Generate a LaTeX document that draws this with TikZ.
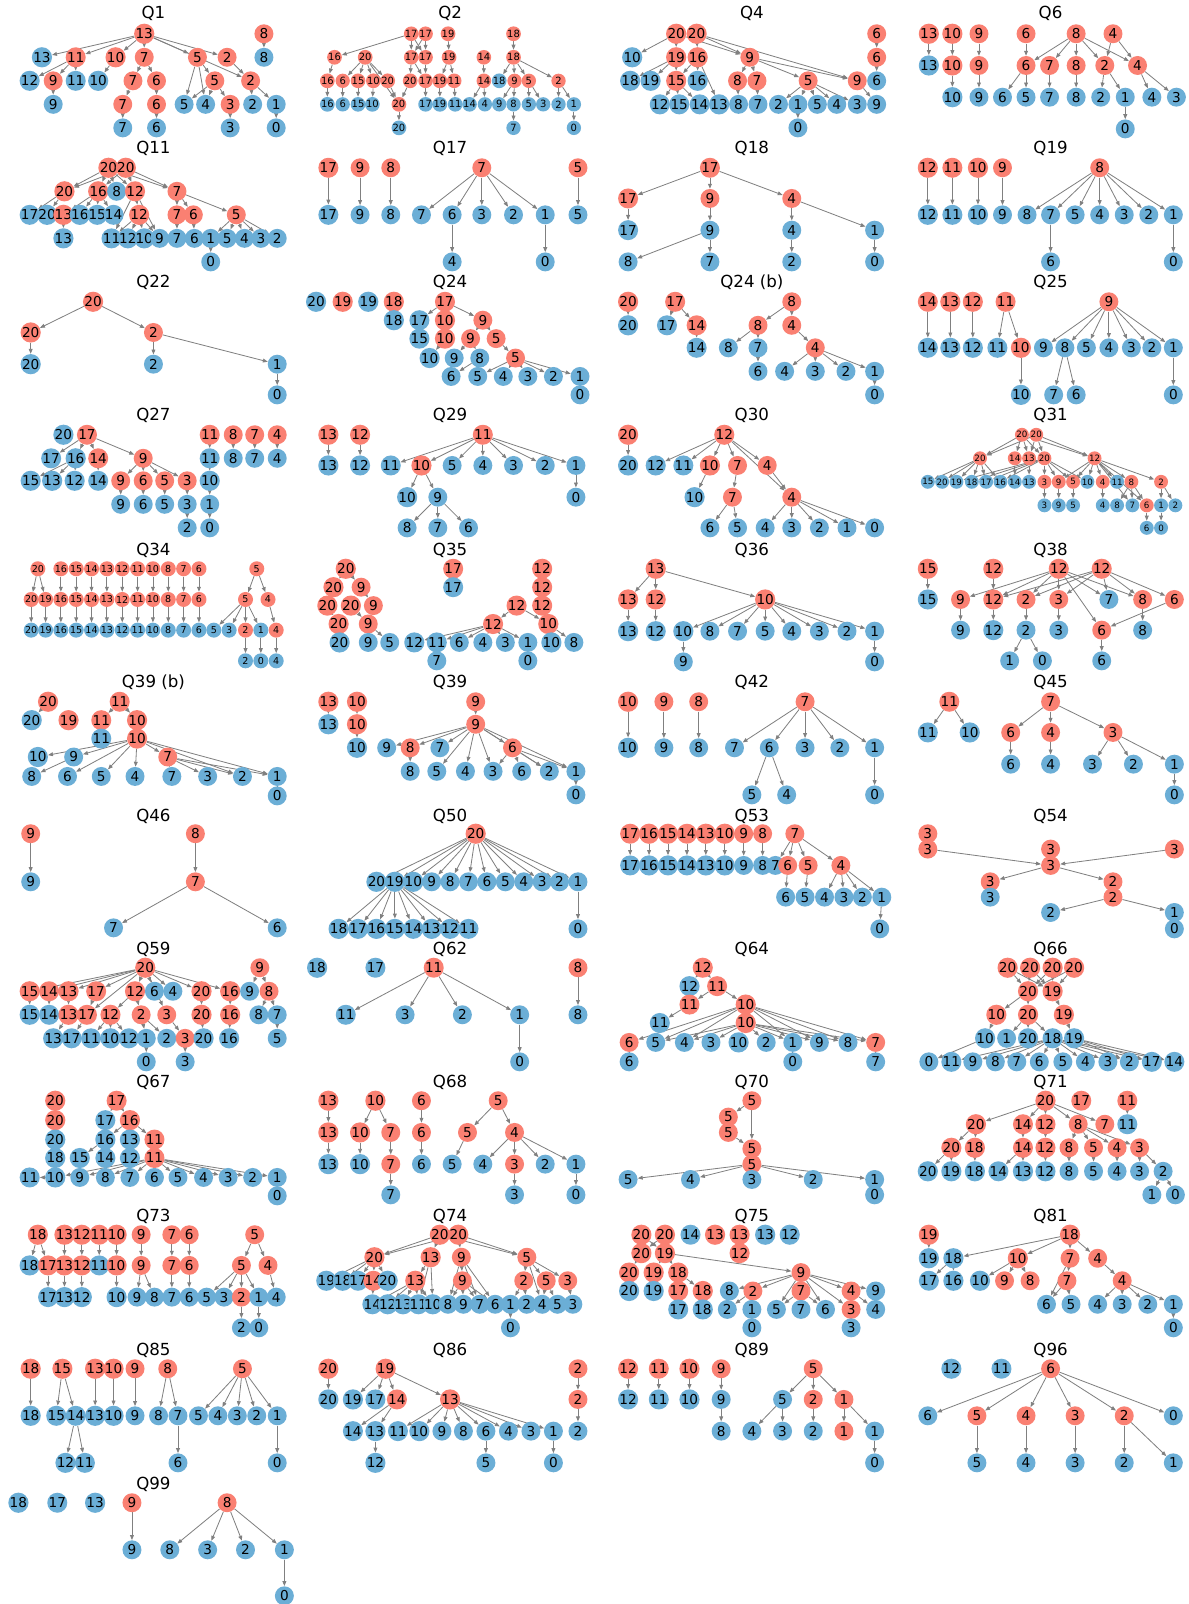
\documentclass[tikz,border=0pt]{standalone}
\usepackage{fontspec}
\setmainfont{DejaVu Sans}
\usetikzlibrary{arrows.meta,backgrounds}
\pgfdeclarelayer{bottom}
\pgfsetlayers{bottom,background,main}
\definecolor{cr}{HTML}{FA8072}
\definecolor{cb}{HTML}{6BAED6}
\definecolor{ce}{HTML}{808080}
\tikzset{
  nd/.style={circle,inner sep=0pt,minimum size=13.9pt,font=\fontsize{10}{10}\selectfont},
  nr/.style={nd,fill=cr},
  nb/.style={nd,fill=cb},
  ed/.style={draw=ce,line width=0.6pt,-{Triangle[length=3.6pt,width=2.8pt]}},
  ttl/.style={font=\fontsize{12.2}{14}\selectfont},
  smallnodes/.style 2 args={nd/.append style={minimum size=#1,font=\fontsize{#2}{#2}\selectfont}},
}
\newcommand\NR[4]{\node[nr] (#1) at (#2,#3) {#4};}
\newcommand\NB[4]{\node[nb] (#1) at (#2,#3) {#4};}
\newcommand\EDG[1]{\begin{pgfonlayer}{background}\foreach \sa/\ta in {#1}{\draw[ed] (\sa) -- (\ta);}\end{pgfonlayer}}
\begin{document}
\begin{tikzpicture}[x=0.75pt,y=-0.75pt]
\begin{pgfonlayer}{bottom}\fill[white] (0,0) rectangle (1162,1568);\end{pgfonlayer}
\useasboundingbox (0,0) rectangle (1162,1568);
% ---------------- Q1
\begin{scope}[name prefix=q1-]
\node[ttl] (title) at (150,13) {Q1};
\NR{r13}{141}{33}{13}\NR{r8}{258}{33}{8}
\NB{b13}{41}{56}{13}\NR{r11}{74}{56}{11}\NR{r10}{113}{56}{10}\NR{r7}{141}{56}{7}\NR{r5}{193}{56}{5}\NR{r2}{222}{56}{2}\NB{b8}{258}{56}{8}
\NB{b12}{29}{79}{12}\NR{r9}{52}{79}{9}\NB{b11}{74}{79}{11}\NB{b10}{96}{79}{10}\NR{r7b}{130}{79}{7}\NR{r6}{153}{79}{6}\NR{r5b}{210}{79}{5}\NR{r2b}{245}{79}{2}
\NB{b9}{52}{102}{9}\NR{r7c}{120}{102}{7}\NR{r6b}{153}{102}{6}\NB{b5}{180}{102}{5}\NB{b4}{201}{102}{4}\NR{r3}{225}{102}{3}\NB{b2}{247}{102}{2}\NB{b1}{270}{102}{1}
\NB{b7}{120}{125}{7}\NB{b6}{153}{125}{6}\NB{b3}{225}{125}{3}\NB{b0}{270}{125}{0}
\EDG{r13/b13,r13/r11,r13/r10,r13/r7,r13/r5,r13/r2,r13/r2b,r8/b8,r11/b12,r11/r9,r11/b11,r10/b10,r7/r7b,r7/r6,r7b/r7c,r7c/b7,r6/r6b,r6b/b6,r9/b9,r5/b5,r5/b4,r5/r5b,r5b/b5,r5b/b4,r5b/r3,r2/r2b,r2b/b2,r2b/b1,r3/b3,b1/b0}
\end{scope}
% ---------------- Q2
\begin{scope}[name prefix=q2-,smallnodes={10.5pt}{7.3}]
\node[ttl] (title) at (440,13) {Q2};
\NR{r17a}{402}{33}{17}\NR{r17b}{416}{33}{17}\NR{r19a}{438}{33}{19}\NR{r18a}{502}{33}{18}
\NR{r16a}{327}{56}{16}\NR{r20a}{357}{56}{20}\NR{r17c}{402}{56}{17}\NR{r17d}{416}{56}{17}\NR{r19b}{439}{56}{19}\NR{r14a}{473}{56}{14}\NR{r18b}{502}{56}{18}
\NR{r16b}{320}{79}{16}\NR{r6}{335}{79}{6}\NR{r15}{350}{79}{15}\NR{r10}{365}{79}{10}\NR{r20b}{379}{79}{20}\NR{r20c}{401}{79}{20}\NR{r17e}{416}{79}{17}\NR{r19c}{430}{79}{19}\NR{r11}{444}{79}{11}\NR{r14b}{473}{79}{14}\NB{b18}{488}{79}{18}\NR{r9}{503}{79}{9}\NR{r5}{517}{79}{5}\NR{r2}{546}{79}{2}
\NB{b16}{320}{102}{16}\NB{b6}{335}{102}{6}\NB{b15}{350}{102}{15}\NB{b10}{364}{102}{10}\NR{r20d}{390}{102}{20}\NB{b17}{416}{102}{17}\NB{b19}{430}{102}{19}\NB{b11}{445}{102}{11}\NB{b14}{459}{102}{14}\NB{b4}{474}{102}{4}\NB{b9}{488}{102}{9}\NB{b8}{502}{102}{8}\NB{b5}{517}{102}{5}\NB{b3}{531}{102}{3}\NB{b2}{546}{102}{2}\NB{b1}{561}{102}{1}
\NB{b20}{390}{125}{20}\NB{b7}{502}{125}{7}\NB{b0}{561}{125}{0}
\EDG{r17a/r16a,r17a/r17c,r17a/r17d,r17b/r17c,r17b/r17d,r19a/r19b,r18a/r18b,r16a/r16b,r20a/r6,r20a/r15,r20a/r10,r20a/r20b,r20a/r20d,r17c/r20c,r17c/r17e,r17d/r17e,r19b/r19c,r19b/r11,r14a/r14b,r18b/b18,r18b/r9,r18b/r5,r18b/r2,r16b/b16,r6/b6,r15/b15,r10/b10,r20b/r20d,r20c/r20d,r17e/b17,r19c/b19,r11/b11,r14b/b14,r14b/b4,r9/b9,r9/b8,r5/b5,r5/b3,r2/b2,r2/b1,r20d/b20,b8/b7,b1/b0}
\end{scope}
% ---------------- Q4
\begin{scope}[name prefix=q4-]
\node[ttl] (title) at (735,13) {Q4};
\NR{r20a}{661}{33}{20}\NR{r20b}{681}{33}{20}\NR{r6a}{857}{33}{6}
\NB{b10}{618}{56}{10}\NR{r19}{661}{56}{19}\NR{r16}{682}{56}{16}\NR{r9a}{733}{56}{9}\NR{r6b}{857}{56}{6}
\NB{b18}{616}{79}{18}\NB{b19}{636}{79}{19}\NR{r15}{661}{79}{15}\NB{b16}{682}{79}{16}\NR{r8}{721}{79}{8}\NR{r7}{740}{79}{7}\NR{r5}{790}{79}{5}\NR{r9b}{838}{79}{9}\NB{b6}{857}{79}{6}
\NB{b12}{645}{102}{12}\NB{b15}{664}{102}{15}\NB{b14}{684}{102}{14}\NB{b13}{703}{102}{13}\NB{b8}{722}{102}{8}\NB{b7}{741}{102}{7}\NB{b2}{761}{102}{2}\NB{b1}{780}{102}{1}\NB{b5}{799}{102}{5}\NB{b4}{818}{102}{4}\NB{b3}{838}{102}{3}\NB{b9}{857}{102}{9}
\NB{b0}{780}{125}{0}
\EDG{r20a/b10,r20a/r19,r20a/r9a,r20b/r16,r20b/r9a,r20b/r9b,r19/b18,r19/b19,r19/r15,r16/r15,r16/b16,r15/b12,r15/b15,r15/b14,r16/b13,r9a/r8,r9a/r7,r9a/r5,r9a/r9b,r8/b8,r7/b7,r5/b2,r5/b1,r5/b5,r5/b4,r5/b3,b1/b0,r9b/b9,r6a/r6b,r6b/b6}
\end{scope}
% ---------------- Q6
\begin{scope}[name prefix=q6-]
\node[ttl] (title) at (1027,13) {Q6};
\NR{r13a}{908}{33}{13}\NR{r10a}{931}{33}{10}\NR{r9a}{957}{33}{9}\NR{r6a}{1003}{33}{6}\NR{r8a}{1052}{33}{8}\NR{r4a}{1088}{33}{4}
\NB{b13}{908}{64}{13}\NR{r10b}{931}{64}{10}\NR{r9b}{957}{64}{9}\NR{r6b}{1003}{64}{6}\NR{r7}{1026}{64}{7}\NR{r8b}{1052}{64}{8}\NR{r2}{1080}{64}{2}\NR{r4b}{1112}{64}{4}
\NB{b10}{931}{95}{10}\NB{b9}{957}{95}{9}\NB{b6}{980}{95}{6}\NB{b5}{1003}{95}{5}\NB{b7}{1026}{95}{7}\NB{b8}{1052}{95}{8}\NB{b2}{1076}{95}{2}\NB{b1}{1100}{95}{1}\NB{b4}{1126}{95}{4}\NB{b3}{1150}{95}{3}
\NB{b0}{1100}{126}{0}
\EDG{r13a/b13,r10a/r10b,r10b/b10,r9a/r9b,r9b/b9,r6a/r6b,r8a/r6b,r8a/r7,r8a/r8b,r8a/r2,r8a/r4b,r4a/r2,r4a/r4b,r6b/b6,r6b/b5,r7/b7,r8b/b8,r2/b2,r2/b1,b1/b0,r4b/b4,r4b/b3}
\end{scope}
% ---------------- Q11
\begin{scope}[name prefix=q11-]
\node[ttl] (title) at (150,145) {Q11};
\NR{r20a}{106}{164}{20}\NR{r20b}{123}{164}{20}
\NR{r20c}{63}{187}{20}\NR{r16}{96}{187}{16}\NB{b8}{114}{187}{8}\NR{r12a}{132}{187}{12}\NR{r7a}{173}{187}{7}
\NB{b17}{29}{210}{17}\NB{b20}{46}{210}{20}\NR{r13}{62}{210}{13}\NB{b16}{78}{210}{16}\NB{b15}{95}{210}{15}\NB{b14}{111}{210}{14}\NR{r12b}{136}{210}{12}\NR{r7b}{173}{210}{7}\NR{r6}{189}{210}{6}\NR{r5}{231}{210}{5}
\NB{b13}{62}{233}{13}\NB{b11}{109}{233}{11}\NB{b12}{125}{233}{12}\NB{b10}{141}{233}{10}\NB{b9}{156}{233}{9}\NB{b7}{173}{233}{7}\NB{b6}{190}{233}{6}\NB{b1}{206}{233}{1}\NB{b5}{222}{233}{5}\NB{b4}{239}{233}{4}\NB{b3}{255}{233}{3}\NB{b2}{271}{233}{2}
\NB{b0}{206}{256}{0}
\EDG{r20a/r20c,r20a/r16,r20a/b8,r20a/r12a,r20a/r7a,r20b/r20c,r20b/r16,r20b/r12a,r20b/r7a,r20c/b17,r20c/b20,r16/r13,r16/b16,r16/b15,r16/b14,r13/b13,r12a/b11,r12a/r12b,r12a/b9,r12b/b11,r12b/b12,r12b/b10,r12b/b9,r7a/r7b,r7a/r6,r7a/r5,r7b/b7,r6/b6,r5/b1,r5/b5,r5/b4,r5/b3,r5/b2,b1/b0}
\end{scope}
% ---------------- Q17
\begin{scope}[name prefix=q17-]
\node[ttl] (title) at (440,145) {Q17};
\NR{r17}{321}{164}{17}\NR{r9}{352}{164}{9}\NR{r8}{382}{164}{8}\NR{r7}{471}{164}{7}\NR{r5}{565}{164}{5}
\NB{b17}{321}{210}{17}\NB{b9}{352}{210}{9}\NB{b8}{382}{210}{8}\NB{b7}{412}{210}{7}\NB{b6}{442}{210}{6}\NB{b3}{471}{210}{3}\NB{b2}{502}{210}{2}\NB{b1}{533}{210}{1}\NB{b5}{565}{210}{5}
\NB{b4}{442}{256}{4}\NB{b0}{533}{256}{0}
\EDG{r17/b17,r9/b9,r8/b8,r7/b7,r7/b6,r7/b3,r7/b2,r7/b1,r5/b5,b6/b4,b1/b0}
\end{scope}
% ---------------- Q18
\begin{scope}[name prefix=q18-]
\node[ttl] (title) at (735,145) {Q18};
\NR{r17a}{694}{164}{17}
\NR{r17b}{614}{194}{17}\NR{r9}{694}{194}{9}\NR{r4}{774}{194}{4}
\NB{b17}{614}{225}{17}\NB{b9}{694}{225}{9}\NB{b4}{774}{225}{4}\NB{b1}{855}{225}{1}
\NB{b8}{614}{256}{8}\NB{b7}{694}{256}{7}\NB{b2}{774}{256}{2}\NB{b0}{855}{256}{0}
\EDG{r17a/r17b,r17a/r9,r17a/r4,r17b/b17,r9/b9,b9/b8,b9/b7,r4/b4,r4/b1,b4/b2,b1/b0}
\end{scope}
% ---------------- Q19
\begin{scope}[name prefix=q19-]
\node[ttl] (title) at (1027,145) {Q19};
\NR{r12}{907}{164}{12}\NR{r11}{931}{164}{11}\NR{r10}{956}{164}{10}\NR{r9}{980}{164}{9}\NR{r8}{1075}{164}{8}
\NB{b12}{907}{210}{12}\NB{b11}{931}{210}{11}\NB{b10}{956}{210}{10}\NB{b9}{980}{210}{9}\NB{b8}{1004}{210}{8}\NB{b7}{1027}{210}{7}\NB{b5}{1051}{210}{5}\NB{b4}{1075}{210}{4}\NB{b3}{1099}{210}{3}\NB{b2}{1123}{210}{2}\NB{b1}{1147}{210}{1}
\NB{b6}{1027}{256}{6}\NB{b0}{1147}{256}{0}
\EDG{r12/b12,r11/b11,r10/b10,r9/b9,r8/b8,r8/b7,r8/b5,r8/b4,r8/b3,r8/b2,r8/b1,b7/b6,b1/b0}
\end{scope}
% ---------------- Q22
\begin{scope}[name prefix=q22-]
\node[ttl] (title) at (150,276) {Q22};
\NR{r20a}{91}{295}{20}
\NR{r20b}{30}{325}{20}\NR{r2}{150}{325}{2}
\NB{b20}{30}{356}{20}\NB{b2}{150}{356}{2}\NB{b1}{271}{356}{1}
\NB{b0}{271}{386}{0}
\EDG{r20a/r20b,r20a/r2,r20b/b20,r2/b2,r2/b1,b1/b0}
\end{scope}
% ---------------- Q24
\begin{scope}[name prefix=q24-]
\node[ttl] (title) at (440,276) {Q24};
\NB{b20}{309}{295}{20}\NR{r19}{335}{295}{19}\NB{b19}{360}{295}{19}\NR{r18}{385}{295}{18}\NR{r17}{435}{295}{17}
\NB{b18}{385}{313}{18}\NB{b17}{410}{313}{17}\NR{r10a}{435}{313}{10}\NR{r9a}{472}{313}{9}
\NB{b15}{410}{331}{15}\NR{r10b}{435}{331}{10}\NR{r9b}{460}{331}{9}\NR{r5a}{485}{331}{5}
\NB{b10}{420}{350}{10}\NB{b9}{444}{350}{9}\NB{b8}{469}{350}{8}\NR{r5b}{504}{350}{5}
\NB{b6}{441}{368}{6}\NB{b5}{467}{368}{5}\NB{b4}{492}{368}{4}\NB{b3}{516}{368}{3}\NB{b2}{541}{368}{2}\NB{b1}{567}{368}{1}
\NB{b0}{567}{386}{0}
\EDG{r18/b18,r17/b17,r17/r9a,b17/b15,r10a/r10b,r10b/b10,r9a/r9b,r9a/r5a,r9b/b9,r9b/b8,b8/b6,r5a/r5b,r5b/b5,r5b/b4,r5b/b3,r5b/b2,r5b/b1,b1/b0}
\end{scope}
% ---------------- Q24 (b)
\begin{scope}[name prefix=q24b-]
\node[ttl] (title) at (735,276) {Q24 (b)};
\NR{r20}{614}{295}{20}\NR{r17}{660}{295}{17}\NR{r8a}{774}{295}{8}
\NB{b20}{614}{318}{20}\NB{b17}{652}{318}{17}\NR{r14}{681}{318}{14}\NR{r8b}{741}{318}{8}\NR{r4a}{774}{318}{4}
\NB{b14}{681}{340}{14}\NB{b8}{712}{340}{8}\NB{b7}{741}{340}{7}\NR{r4b}{797}{340}{4}
\NB{b6}{741}{363}{6}\NB{b4}{767}{363}{4}\NB{b3}{797}{363}{3}\NB{b2}{827}{363}{2}\NB{b1}{855}{363}{1}
\NB{b0}{855}{386}{0}
\EDG{r20/b20,r17/b17,r17/r14,r14/b14,r8a/r8b,r8a/r4a,r8b/b8,r8b/b7,b7/b6,r4a/r4b,r4b/b4,r4b/b3,r4b/b2,r4b/b1,b1/b0}
\end{scope}
% ---------------- Q25
\begin{scope}[name prefix=q25-]
\node[ttl] (title) at (1027,276) {Q25};
\NR{r14}{907}{295}{14}\NR{r13}{929}{295}{13}\NR{r12}{951}{295}{12}\NR{r11}{983}{295}{11}\NR{r9}{1084}{295}{9}
\NB{b14}{907}{340}{14}\NB{b13}{929}{340}{13}\NB{b12}{951}{340}{12}\NB{b11}{975}{340}{11}\NR{r10}{998}{340}{10}\NB{b9}{1020}{340}{9}\NB{b8}{1041}{340}{8}\NB{b5}{1062}{340}{5}\NB{b4}{1084}{340}{4}\NB{b3}{1106}{340}{3}\NB{b2}{1126}{340}{2}\NB{b1}{1147}{340}{1}
\NB{b10}{998}{386}{10}\NB{b7}{1030}{386}{7}\NB{b6}{1052}{386}{6}\NB{b0}{1147}{386}{0}
\EDG{r14/b14,r13/b13,r12/b12,r11/b11,r11/r10,r10/b10,r9/b9,r9/b8,r9/b5,r9/b4,r9/b3,r9/b2,r9/b1,b8/b7,b8/b6,b1/b0}
\end{scope}
% ---------------- Q27
\begin{scope}[name prefix=q27-]
\node[ttl] (title) at (150,406) {Q27};
\NB{b20}{62}{425}{20}\NR{r17}{85}{425}{17}\NR{r11}{205}{425}{11}\NR{r8}{228}{425}{8}\NR{r7}{249}{425}{7}\NR{r4}{271}{425}{4}
\NB{b17}{50}{448}{17}\NB{b16}{74}{448}{16}\NR{r14}{96}{448}{14}\NR{r9a}{140}{448}{9}\NB{b11}{205}{448}{11}\NB{b8}{228}{448}{8}\NB{b7}{249}{448}{7}\NB{b4}{271}{448}{4}
\NB{b15}{30}{470}{15}\NB{b13}{51}{470}{13}\NB{b12}{73}{470}{12}\NB{b14}{96}{470}{14}\NR{r9b}{118}{470}{9}\NR{r6}{140}{470}{6}\NR{r5}{161}{470}{5}\NR{r3}{183}{470}{3}\NB{b10}{205}{470}{10}
\NB{b9}{118}{493}{9}\NB{b6}{140}{493}{6}\NB{b5}{161}{493}{5}\NB{b3}{183}{493}{3}\NB{b1}{205}{493}{1}
\NB{b2}{183}{516}{2}\NB{b0}{205}{516}{0}
\EDG{r17/b17,r17/b16,r17/r14,r17/r9a,b16/b15,b16/b13,b16/b12,r14/b14,r9a/r9b,r9a/r6,r9a/r5,r9a/r3,r9b/b9,r6/b6,r5/b5,r3/b3,b3/b2,r11/b11,b11/b10,b10/b1,b1/b0,r8/b8,r7/b7,r4/b4}
\end{scope}
% ---------------- Q29
\begin{scope}[name prefix=q29-]
\node[ttl] (title) at (440,406) {Q29};
\NR{r13}{321}{425}{13}\NR{r12}{352}{425}{12}\NR{r11}{472}{425}{11}
\NB{b13}{321}{455}{13}\NB{b12}{352}{455}{12}\NB{b11}{382}{455}{11}\NR{r10}{412}{455}{10}\NB{b5}{442}{455}{5}\NB{b4}{472}{455}{4}\NB{b3}{502}{455}{3}\NB{b2}{533}{455}{2}\NB{b1}{563}{455}{1}
\NB{b10}{398}{486}{10}\NB{b9}{428}{486}{9}\NB{b0}{563}{486}{0}
\NB{b8}{398}{516}{8}\NB{b7}{428}{516}{7}\NB{b6}{458}{516}{6}
\EDG{r13/b13,r12/b12,r11/b11,r11/r10,r11/b5,r11/b4,r11/b3,r11/b2,r11/b1,r10/b10,r10/b9,b9/b8,b9/b7,b9/b6,b1/b0}
\end{scope}
% ---------------- Q30
\begin{scope}[name prefix=q30-]
\node[ttl] (title) at (735,406) {Q30};
\NR{r20}{614}{425}{20}\NR{r12}{708}{425}{12}
\NB{b20}{614}{455}{20}\NB{b12}{641}{455}{12}\NB{b11}{668}{455}{11}\NR{r10}{694}{455}{10}\NR{r7a}{721}{455}{7}\NR{r4a}{750}{455}{4}
\NB{b10}{679}{486}{10}\NR{r7b}{716}{486}{7}\NR{r4b}{774}{486}{4}
\NB{b6}{694}{516}{6}\NB{b5}{721}{516}{5}\NB{b4}{748}{516}{4}\NB{b3}{774}{516}{3}\NB{b2}{801}{516}{2}\NB{b1}{828}{516}{1}\NB{b0}{855}{516}{0}
\EDG{r20/b20,r12/b12,r12/b11,r12/r10,r12/r7a,r12/r4a,r12/r4b,r10/b10,r7a/r7b,r7b/b6,r7b/b5,r4a/r4b,r4b/b4,r4b/b3,r4b/b2,r4b/b1,r4b/b0}
\end{scope}
% ---------------- Q31
\begin{scope}[name prefix=q31-,smallnodes={10.2pt}{6.4}]
\node[ttl] (title) at (1027,406) {Q31};
\NR{r20a}{999}{425}{20}\NR{r20b}{1013}{425}{20}
\NR{r20c}{958}{448}{20}\NR{r14}{992}{448}{14}\NR{r13}{1006}{448}{13}\NR{r20d}{1021}{448}{20}\NR{r12}{1070}{448}{12}
\NB{b15}{907}{471}{15}\NB{b20}{921}{471}{20}\NB{b19}{935}{471}{19}\NB{b18}{950}{471}{18}\NB{b17}{964}{471}{17}\NB{b16}{978}{471}{16}\NB{b14}{992}{471}{14}\NB{b13}{1006}{471}{13}\NR{r3}{1021}{471}{3}\NR{r9}{1035}{471}{9}\NR{r5}{1049}{471}{5}\NB{b10}{1063}{471}{10}\NR{r4}{1078}{471}{4}\NB{b11}{1092}{471}{11}\NR{r8}{1106}{471}{8}\NR{r2}{1135}{471}{2}
\NB{b3}{1021}{494}{3}\NB{b9}{1035}{494}{9}\NB{b5}{1049}{494}{5}\NB{b4}{1078}{494}{4}\NB{b8}{1092}{494}{8}\NB{b7}{1107}{494}{7}\NR{r6}{1121}{494}{6}\NB{b1}{1135}{494}{1}\NB{b2}{1149}{494}{2}
\NB{b6}{1121}{516}{6}\NB{b0}{1135}{516}{0}
\EDG{r20a/r20c,r20a/r14,r20a/r13,r20a/r20d,r20a/r12,r20b/r20c,r20b/r13,r20b/r20d,r20b/r12,r20c/b15,r20c/b20,r20c/b19,r20c/b18,r20c/b17,r20c/b16,r14/b14,r13/b13,r20d/b19,r20d/b18,r20d/b17,r20d/b16,r20d/r3,r20d/r9,r20d/r5,r20d/b10,r12/r9,r12/r5,r12/b10,r12/r4,r12/b11,r12/r8,r12/r2,r12/b7,r12/r6,r3/b3,r9/b9,r5/b5,r4/b4,r8/b8,r8/b7,r8/r6,r6/b6,r2/b1,r2/b2,b1/b0}
\end{scope}
% ---------------- Q34
\begin{scope}[name prefix=q34-,smallnodes={11pt}{7}]
\node[ttl] (title) at (150,538) {Q34};
\NR{r20a}{37}{556}{20}\NR{r5a}{251}{556}{5}
\NR{r20b}{30.5}{586}{20}\NR{r19}{44.6}{586}{19}\NR{r5b}{240}{586}{5}\NR{r4a}{262}{586}{4}
\NB{b20}{30.5}{616}{20}\NB{b19}{44.6}{616}{19}\NB{b5}{209}{616}{5}\NB{b3}{224}{616}{3}\NR{r2}{240}{616}{2}\NB{b1}{255}{616}{1}\NR{r4b}{270}{616}{4}
\NB{b2}{240}{646}{2}\NB{b0}{255}{646}{0}\NB{b4}{270}{646}{4}
\foreach \l/\x in {16/59.5,15/74.5,14/89.5,13/104.5,12/119.5,11/134.5,10/149.5,8/164.5,7/179.5,6/194.5}{\node[nr] (a\l) at (\x,556) {\l}; \node[nr] (m\l) at (\x,586) {\l}; \node[nb] (z\l) at (\x,616) {\l};}
\begin{pgfonlayer}{background}\foreach \l in {16,15,14,13,12,11,10,8,7,6}{\draw[ed] (a\l) -- (m\l); \draw[ed] (m\l) -- (z\l);}\end{pgfonlayer}
\EDG{r20a/r20b,r20a/r19,r20b/b20,r19/b19,r5a/r5b,r5a/r4a,r5b/b5,r5b/b3,r5b/r2,r5b/b1,r4a/r4b,r2/b2,b1/b0,r4b/b4}
\end{scope}
% ---------------- Q35
\begin{scope}[name prefix=q35-]
\node[ttl] (title) at (440,538) {Q35};
\NR{r20a}{338}{556}{20}\NR{r17}{443}{556}{17}\NR{r12a}{530}{556}{12}
\NR{r20b}{326}{574}{20}\NR{r9a}{353}{574}{9}\NB{b17}{443}{574}{17}\NR{r12b}{530}{574}{12}
\NR{r20c}{320}{592}{20}\NR{r20d}{343}{592}{20}\NR{r9b}{365}{592}{9}\NR{r12c}{505}{592}{12}\NR{r12d}{530}{592}{12}
\NR{r20e}{331}{610}{20}\NR{r9c}{360}{610}{9}\NR{r12e}{482}{610}{12}\NR{r10}{536}{610}{10}
\NB{b20}{332}{628}{20}\NB{b9}{360}{628}{9}\NB{b5}{381}{628}{5}\NB{b12}{405}{628}{12}\NB{b11}{427}{628}{11}\NB{b6}{449}{628}{6}\NB{b4}{472}{628}{4}\NB{b3}{494}{628}{3}\NB{b1}{516}{628}{1}\NB{b10}{539}{628}{10}\NB{b8}{561}{628}{8}
\NB{b7}{427}{646}{7}\NB{b0}{516}{646}{0}
\EDG{r20a/r20b,r20a/r9a,r20b/r20c,r9a/r9b,r20c/r20e,r20d/r9c,r9b/r9c,r20e/b20,r9c/b9,r9c/b5,r17/b17,r12a/r12b,r12b/r12d,r12c/r12e,r12c/r10,r12d/r10,r12e/b12,r12e/b11,r12e/b6,r12e/b4,r12e/b3,r12e/b1,r10/b10,r10/b8,b11/b7,b1/b0}
\end{scope}
% ---------------- Q36
\begin{scope}[name prefix=q36-]
\node[ttl] (title) at (735,538) {Q36};
\NR{r13a}{641}{556}{13}
\NR{r13b}{614}{586}{13}\NR{r12}{641}{586}{12}\NR{r10}{748}{586}{10}
\NB{b13}{614}{617}{13}\NB{b12}{641}{617}{12}\NB{b10}{668}{617}{10}\NB{b8}{694}{617}{8}\NB{b7}{721}{617}{7}\NB{b5}{748}{617}{5}\NB{b4}{774}{617}{4}\NB{b3}{801}{617}{3}\NB{b2}{828}{617}{2}\NB{b1}{855}{617}{1}
\NB{b9}{668}{647}{9}\NB{b0}{855}{647}{0}
\EDG{r13a/r13b,r13a/r12,r13a/r10,r13b/b13,r12/b12,r10/b10,r10/b8,r10/b7,r10/b5,r10/b4,r10/b3,r10/b2,r10/b1,b10/b9,b1/b0}
\end{scope}
% ---------------- Q38
\begin{scope}[name prefix=q38-]
\node[ttl] (title) at (1027,538) {Q38};
\NR{r15}{907}{556}{15}\NR{r12a}{971}{556}{12}\NR{r12b}{1035}{556}{12}\NR{r12c}{1077}{556}{12}
\NB{b15}{907}{586}{15}\NR{r9}{939}{586}{9}\NR{r12d}{971}{586}{12}\NR{r2}{1003}{586}{2}\NR{r3}{1035}{586}{3}\NB{b7}{1084}{586}{7}\NR{r8}{1117}{586}{8}\NR{r6a}{1148}{586}{6}
\NB{b9}{939}{616}{9}\NB{b12}{971}{616}{12}\NB{b2}{1003}{616}{2}\NB{b3}{1035}{616}{3}\NR{r6b}{1077}{616}{6}\NB{b8}{1117}{616}{8}
\NB{b1}{987}{646}{1}\NB{b0}{1019}{646}{0}\NB{b6}{1077}{646}{6}
\EDG{r15/b15,r12a/r12d,r12b/r9,r12b/r12d,r12b/r2,r12b/r3,r12b/b7,r12b/r8,r12b/r6b,r12c/r12d,r12c/r2,r12c/r3,r12c/b7,r12c/r8,r12c/r6a,r9/b9,r12d/b12,r2/b2,b2/b1,b2/b0,r3/b3,r6a/r6b,r6b/b6,r8/b8}
\end{scope}
% ---------------- Q39 (b)
\begin{scope}[name prefix=q39b-]
\node[ttl] (title) at (150,667) {Q39 (b)};
\NR{r20}{47}{686}{20}\NR{r11a}{117}{686}{11}
\NB{b20}{31}{704}{20}\NR{r19}{67}{704}{19}\NR{r11b}{99}{704}{11}\NR{r10a}{134}{704}{10}
\NB{b11}{99}{722}{11}\NR{r10b}{134}{722}{10}
\NB{b10}{37}{740}{10}\NB{b9}{72}{740}{9}\NR{r7}{164}{740}{7}
\NB{b8}{31}{759}{8}\NB{b6}{66}{759}{6}\NB{b5}{99}{759}{5}\NB{b4}{132}{759}{4}\NB{b7}{168}{759}{7}\NB{b3}{203}{759}{3}\NB{b2}{237}{759}{2}\NB{b1}{271}{759}{1}
\NB{b0}{271}{778}{0}
\EDG{r20/b20,r11a/r11b,r11a/r10a,r11b/b11,r10a/r10b,r10b/b10,r10b/b9,r10b/b6,r10b/b5,r10b/b4,r10b/r7,r10b/b2,r10b/b1,b9/b8,r7/b7,r7/b3,r7/b2,r7/b1,b1/b0}
\end{scope}
% ---------------- Q39
\begin{scope}[name prefix=q39-]
\node[ttl] (title) at (440,667) {Q39};
\NR{r13}{321}{686}{13}\NR{r10a}{349}{686}{10}\NR{r9a}{465}{686}{9}
\NB{b13}{321}{708}{13}\NR{r10b}{349}{708}{10}\NR{r9b}{465}{708}{9}
\NB{b10}{349}{731}{10}\NB{b9}{378}{731}{9}\NR{r8}{401}{731}{8}\NB{b7}{430}{731}{7}\NR{r6}{501}{731}{6}
\NB{b8}{401}{754}{8}\NB{b5}{427}{754}{5}\NB{b4}{455}{754}{4}\NB{b3}{482}{754}{3}\NB{b6}{510}{754}{6}\NB{b2}{537}{754}{2}\NB{b1}{563}{754}{1}
\NB{b0}{563}{777}{0}
\EDG{r13/b13,r10a/r10b,r10b/b10,r9a/r9b,r9b/b9,r9b/r8,r9b/b7,r9b/b5,r9b/b4,r9b/b3,r9b/r6,r9b/b2,r9b/b1,r8/b8,r6/b6,r6/b3,r6/b2,r6/b1,b1/b0}
\end{scope}
% ---------------- Q42
\begin{scope}[name prefix=q42-]
\node[ttl] (title) at (735,667) {Q42};
\NR{r10}{614}{686}{10}\NR{r9}{649}{686}{9}\NR{r8}{683}{686}{8}\NR{r7}{787}{686}{7}
\NB{b10}{614}{731}{10}\NB{b9}{649}{731}{9}\NB{b8}{683}{731}{8}\NB{b7}{718}{731}{7}\NB{b6}{752}{731}{6}\NB{b3}{787}{731}{3}\NB{b2}{821}{731}{2}\NB{b1}{855}{731}{1}
\NB{b5}{735}{777}{5}\NB{b4}{769}{777}{4}\NB{b0}{855}{777}{0}
\EDG{r10/b10,r9/b9,r8/b8,r7/b7,r7/b6,r7/b3,r7/b2,r7/b1,b6/b5,b6/b4,b1/b0}
\end{scope}
% ---------------- Q45
\begin{scope}[name prefix=q45-]
\node[ttl] (title) at (1027,667) {Q45};
\NR{r11}{928}{686}{11}\NR{r7}{1027}{686}{7}
\NB{b11}{907}{716}{11}\NB{b10}{948}{716}{10}\NR{r6}{988}{716}{6}\NR{r4}{1027}{716}{4}\NR{r3}{1088}{716}{3}
\NB{b6}{988}{747}{6}\NB{b4}{1027}{747}{4}\NB{b3}{1068}{747}{3}\NB{b2}{1108}{747}{2}\NB{b1}{1148}{747}{1}
\NB{b0}{1148}{777}{0}
\EDG{r11/b11,r11/b10,r7/r6,r7/r4,r7/r3,r6/b6,r4/b4,r3/b3,r3/b2,r3/b1,b1/b0}
\end{scope}
% ---------------- Q46
\begin{scope}[name prefix=q46-]
\node[ttl] (title) at (150,798) {Q46};
\NR{r9}{30}{815}{9}\NR{r8}{191}{815}{8}
\NB{b9}{30}{862}{9}\NR{r7}{191}{862}{7}
\NB{b7}{111}{907}{7}\NB{b6}{271}{907}{6}
\EDG{r9/b9,r8/r7,r7/b7,r7/b6}
\end{scope}
% ---------------- Q50
\begin{scope}[name prefix=q50-]
\node[ttl] (title) at (440,798) {Q50};
\NR{r20}{465}{815}{20}
\NB{b20}{368}{862}{20}\NB{b19}{386}{862}{19}\NB{b10}{404}{862}{10}\NB{b9}{422}{862}{9}\NB{b8}{440}{862}{8}\NB{b7}{458}{862}{7}\NB{b6}{476}{862}{6}\NB{b5}{494}{862}{5}\NB{b4}{512}{862}{4}\NB{b3}{530}{862}{3}\NB{b2}{547}{862}{2}\NB{b1}{565}{862}{1}
\NB{b18}{331}{908}{18}\NB{b17}{350}{908}{17}\NB{b16}{368}{908}{16}\NB{b15}{386}{908}{15}\NB{b14}{404}{908}{14}\NB{b13}{422}{908}{13}\NB{b12}{440}{908}{12}\NB{b11}{458}{908}{11}\NB{b0}{565}{908}{0}
\EDG{r20/b20,r20/b19,r20/b10,r20/b9,r20/b8,r20/b7,r20/b6,r20/b5,r20/b4,r20/b3,r20/b2,r20/b1,b19/b18,b19/b17,b19/b16,b19/b15,b19/b14,b19/b13,b19/b12,b19/b11,b1/b0}
\end{scope}
% ---------------- Q53
\begin{scope}[name prefix=q53-]
\node[ttl] (title) at (735,798) {Q53};
\foreach \l/\x in {17/616,16/634.5,15/653,14/671.5,13/690,10/708.5,9/727,8/745.5}{\node[nr] (a\l) at (\x,815) {\l}; \node[nb] (z\l) at (\x,846) {\l};}
\begin{pgfonlayer}{background}\foreach \l in {17,16,15,14,13,10,9,8}{\draw[ed] (a\l) -- (z\l);}\end{pgfonlayer}
\NR{r7}{777}{815}{7}
\NB{b7}{758}{846}{7}\NR{r6}{770}{846}{6}\NR{r5}{790}{846}{5}\NR{r4}{822}{846}{4}
\NB{b6}{768}{877}{6}\NB{b5}{787}{877}{5}\NB{b4}{806}{877}{4}\NB{b3}{825}{877}{3}\NB{b2}{843}{877}{2}\NB{b1}{862}{877}{1}
\NB{b0}{860}{908}{0}
\EDG{r7/b7,r7/r6,r7/r5,r7/r4,r6/b6,r5/b5,r4/b4,r4/b3,r4/b2,r4/b1,b1/b0}
\end{scope}
% ---------------- Q54
\begin{scope}[name prefix=q54-]
\node[ttl] (title) at (1027,798) {Q54};
\NR{r3a}{907}{815}{3}\NR{r3b}{907}{830}{3}\NR{r3c}{1027}{830}{3}\NR{r3d}{1148}{830}{3}\NR{r3e}{1027}{846}{3}\NR{r3f}{968}{862}{3}\NR{r2a}{1088}{862}{2}\NB{b3}{968}{877}{3}\NR{r2b}{1088}{877}{2}\NB{b2}{1027}{892}{2}\NB{b1}{1148}{892}{1}\NB{b0}{1148}{908}{0}
\EDG{r3a/r3b,r3b/r3e,r3c/r3e,r3d/r3e,r3e/r3f,r3e/r2a,r3f/b3,r2a/r2b,r2b/b2,r2b/b1,b1/b0}
\end{scope}
% ---------------- Q59
\begin{scope}[name prefix=q59-]
\node[ttl] (title) at (150,928) {Q59};
\NR{r20a}{142}{946}{20}\NR{r9}{254}{946}{9}
\NR{r15}{29}{969}{15}\NR{r14}{48}{969}{14}\NR{r13a}{67}{969}{13}\NR{r17a}{94}{969}{17}\NR{r12a}{132}{969}{12}\NB{b6}{151}{969}{6}\NB{b4}{169}{969}{4}\NR{r20b}{197}{969}{20}\NR{r16a}{225}{969}{16}\NB{b9}{244}{969}{9}\NR{r8}{263}{969}{8}
\NB{b15}{29}{992}{15}\NB{b14}{48}{992}{14}\NR{r13b}{67}{992}{13}\NR{r17b}{85}{992}{17}\NR{r12b}{108}{992}{12}\NR{r2}{138}{992}{2}\NR{r3a}{163}{992}{3}\NR{r20c}{197}{992}{20}\NR{r16b}{225}{992}{16}\NB{b8}{253}{992}{8}\NB{b7}{271}{992}{7}
\NB{b13}{52}{1015}{13}\NB{b17}{70}{1015}{17}\NB{b11}{89}{1015}{11}\NB{b10}{108}{1015}{10}\NB{b12}{126}{1015}{12}\NB{b1}{143}{1015}{1}\NB{b2}{163}{1015}{2}\NR{r3b}{181}{1015}{3}\NB{b20}{199}{1015}{20}\NB{b16}{224}{1015}{16}\NB{b5}{271}{1015}{5}
\NB{b0}{143}{1038}{0}\NB{b3}{181}{1038}{3}
\EDG{r20a/r15,r20a/r14,r20a/r13a,r20a/r17a,r20a/r12a,r20a/b6,r20a/b4,r20a/r20b,r20a/r16a,r20a/r17b,r20a/r3a,r15/b15,r14/b14,r13a/r13b,r13b/b13,r17a/r17b,r17b/b17,r12a/r12b,r12a/r2,r12b/b11,r12b/b10,r12b/b12,r2/b1,r2/b2,b1/b0,r3a/r3b,r3b/b3,r20b/r20c,r20c/b20,r16a/r16b,r16b/b16,r9/b9,r9/r8,r8/b8,r8/b7,b7/b5}
\end{scope}
% ---------------- Q62
\begin{scope}[name prefix=q62-]
\node[ttl] (title) at (440,928) {Q62};
\NB{b18}{310}{946}{18}\NB{b17}{367}{946}{17}\NR{r11}{424}{946}{11}\NR{r8}{565}{946}{8}
\NB{b11}{338}{992}{11}\NB{b3}{396}{992}{3}\NB{b2}{452}{992}{2}\NB{b1}{508}{992}{1}\NB{b8}{565}{992}{8}
\NB{b0}{508}{1038}{0}
\EDG{r11/b11,r11/b3,r11/b2,r11/b1,b1/b0,r8/b8}
\end{scope}
% ---------------- Q64
\begin{scope}[name prefix=q64-]
\node[ttl] (title) at (735,928) {Q64};
\NR{r12}{687}{946}{12}
\NB{b12}{674}{964}{12}\NR{r11a}{701}{964}{11}
\NR{r11b}{674}{982}{11}\NR{r10a}{729}{982}{10}
\NB{b11}{645}{1000}{11}\NR{r10b}{729}{1000}{10}
\NR{r6}{615}{1019}{6}\NB{b5}{641}{1019}{5}\NB{b4}{669}{1019}{4}\NB{b3}{695}{1019}{3}\NB{b10}{722}{1019}{10}\NB{b2}{749}{1019}{2}\NB{b1}{775}{1019}{1}\NB{b9}{801}{1019}{9}\NB{b8}{829}{1019}{8}\NR{r7}{856}{1019}{7}
\NB{b6}{615}{1038}{6}\NB{b0}{775}{1038}{0}\NB{b7}{856}{1038}{7}
\EDG{r12/b12,r12/r11a,r11a/r11b,r11a/r10a,r11b/b11,r10a/r6,r10a/b5,r10a/b4,r10a/r10b,r10a/b1,r10a/b9,r10a/b8,r10a/r7,r10b/b5,r10b/b4,r10b/b3,r10b/b10,r10b/b2,r10b/b1,r10b/b9,r10b/b8,r10b/r7,r6/b6,b1/b0,r7/b7}
\end{scope}
% ---------------- Q66
\begin{scope}[name prefix=q66-]
\node[ttl] (title) at (1027,928) {Q66};
\NR{r20a}{985}{946}{20}\NR{r20b}{1007}{946}{20}\NR{r20c}{1029}{946}{20}\NR{r20d}{1050}{946}{20}
\NR{r20e}{1005}{969}{20}\NR{r19a}{1029}{969}{19}
\NR{r10}{974}{992}{10}\NR{r20f}{1005}{992}{20}\NR{r19b}{1040}{992}{19}
\NB{b10}{963}{1015}{10}\NB{b1}{984}{1015}{1}\NB{b20}{1005}{1015}{20}\NB{b18}{1029}{1015}{18}\NB{b19}{1050}{1015}{19}
\NB{b0}{908}{1038}{0}\NB{b11}{930}{1038}{11}\NB{b9}{951}{1038}{9}\NB{b8}{973}{1038}{8}\NB{b7}{994}{1038}{7}\NB{b6}{1016}{1038}{6}\NB{b5}{1039}{1038}{5}\NB{b4}{1061}{1038}{4}\NB{b3}{1083}{1038}{3}\NB{b2}{1104}{1038}{2}\NB{b17}{1126}{1038}{17}\NB{b14}{1148}{1038}{14}
\EDG{r20a/r20e,r20a/r19a,r20b/r20e,r20b/r19a,r20c/r20e,r20c/r19a,r20d/r20e,r20d/r19a,r20e/r10,r20e/r20f,r19a/r19b,r10/b10,r20f/b1,r20f/b20,r20f/b18,r19b/b19,b10/b0,b18/b11,b18/b9,b18/b8,b18/b7,b18/b6,b18/b5,b18/b4,b18/b3,b18/b2,b18/b17,b18/b14,b19/b2,b19/b17,b19/b14}
\end{scope}
% ---------------- Q67
\begin{scope}[name prefix=q67-]
\node[ttl] (title) at (150,1058) {Q67};
\NR{r20a}{54}{1076}{20}\NR{r17}{114}{1076}{17}
\NR{r20b}{54}{1095}{20}\NB{b17}{103}{1095}{17}\NR{r16}{127}{1095}{16}
\NB{b20}{54}{1114}{20}\NB{b16}{103}{1114}{16}\NB{b13}{127}{1114}{13}\NR{r11a}{151}{1114}{11}
\NB{b18}{54}{1132}{18}\NB{b15}{78}{1132}{15}\NB{b14}{103}{1132}{14}\NB{b12}{127}{1132}{12}\NR{r11b}{151}{1132}{11}
\NB{b11}{29}{1151}{11}\NB{b10}{54}{1151}{10}\NB{b9}{78}{1151}{9}\NB{b8}{103}{1151}{8}\NB{b7}{127}{1151}{7}\NB{b6}{151}{1151}{6}\NB{b5}{174}{1151}{5}\NB{b4}{199}{1151}{4}\NB{b3}{223}{1151}{3}\NB{b2}{247}{1151}{2}\NB{b1}{271}{1151}{1}
\NB{b0}{271}{1169}{0}
\EDG{r20a/r20b,r20b/b20,b20/b18,b18/b10,b10/b11,r17/b17,r17/r16,r16/b16,r16/b13,r16/r11a,b16/b15,b16/b14,b13/b12,r11a/r11b,r11b/b10,r11b/b9,r11b/b8,r11b/b7,r11b/b6,r11b/b5,r11b/b4,r11b/b3,r11b/b2,r11b/b1,b1/b0}
\end{scope}
% ---------------- Q68
\begin{scope}[name prefix=q68-]
\node[ttl] (title) at (440,1058) {Q68};
\NR{r13a}{321}{1076}{13}\NR{r10a}{367}{1076}{10}\NR{r6a}{412}{1076}{6}\NR{r5a}{487}{1076}{5}
\NR{r13b}{321}{1107}{13}\NR{r10b}{352}{1107}{10}\NR{r7a}{382}{1107}{7}\NR{r6b}{412}{1107}{6}\NR{r5b}{457}{1107}{5}\NR{r4}{503}{1107}{4}
\NB{b13}{321}{1138}{13}\NB{b10}{352}{1138}{10}\NR{r7b}{382}{1138}{7}\NB{b6}{412}{1138}{6}\NB{b5}{442}{1138}{5}\NB{b4}{472}{1138}{4}\NR{r3}{503}{1138}{3}\NB{b2}{533}{1138}{2}\NB{b1}{563}{1138}{1}
\NB{b7}{382}{1168}{7}\NB{b3}{503}{1168}{3}\NB{b0}{563}{1168}{0}
\EDG{r13a/r13b,r13b/b13,r10a/r10b,r10a/r7a,r10b/b10,r7a/r7b,r7b/b7,r6a/r6b,r6b/b6,r5a/r5b,r5a/r4,r5b/b5,r4/b4,r4/r3,r4/b2,r4/b1,r3/b3,b1/b0}
\end{scope}
% ---------------- Q70
\begin{scope}[name prefix=q70-]
\node[ttl] (title) at (735,1058) {Q70};
\NR{r5a}{735}{1076}{5}\NR{r5b}{712}{1092}{5}\NR{r5c}{712}{1107}{5}\NR{r5d}{735}{1123}{5}\NR{r5e}{735}{1138}{5}
\NB{b5}{614}{1153}{5}\NB{b4}{675}{1153}{4}\NB{b3}{735}{1153}{3}\NB{b2}{795}{1153}{2}\NB{b1}{855}{1153}{1}
\NB{b0}{855}{1168}{0}
\EDG{r5a/r5b,r5b/r5c,r5c/r5d,r5a/r5d,r5d/r5e,r5e/b5,r5e/b4,r5e/b3,r5e/b2,r5e/b1,b1/b0}
\end{scope}
% ---------------- Q71
\begin{scope}[name prefix=q71-]
\node[ttl] (title) at (1027,1058) {Q71};
\NR{r20a}{1022}{1076}{20}\NR{r17}{1057}{1076}{17}\NR{r11}{1102}{1076}{11}
\NR{r20b}{954}{1099}{20}\NR{r14a}{1000}{1099}{14}\NR{r12a}{1022}{1099}{12}\NR{r8a}{1054}{1099}{8}\NR{r7}{1080}{1099}{7}\NB{b11}{1102}{1099}{11}
\NR{r20c}{930}{1122}{20}\NR{r18}{953}{1122}{18}\NR{r14b}{1000}{1122}{14}\NR{r12b}{1022}{1122}{12}\NR{r8b}{1045}{1122}{8}\NR{r5}{1069}{1122}{5}\NR{r4}{1092}{1122}{4}\NR{r3}{1114}{1122}{3}
\NB{b20}{907}{1145}{20}\NB{b19}{930}{1145}{19}\NB{b18}{953}{1145}{18}\NB{b14}{976}{1145}{14}\NB{b13}{1000}{1145}{13}\NB{b12}{1022}{1145}{12}\NB{b8}{1045}{1145}{8}\NB{b5}{1069}{1145}{5}\NB{b4}{1092}{1145}{4}\NB{b3}{1114}{1145}{3}\NB{b2}{1137}{1145}{2}
\NB{b1}{1126}{1168}{1}\NB{b0}{1149}{1168}{0}
\EDG{r20a/r20b,r20a/r14a,r20a/r12a,r20a/r8a,r20a/r7,r20b/r20c,r20b/r18,r20c/b20,r20c/b19,r18/b18,r14a/r14b,r14b/b14,r14b/b13,r12a/r12b,r12b/b12,r8a/r8b,r8a/r5,r8a/r4,r8a/r3,r8b/b8,r5/b5,r4/b4,r3/b3,r3/b2,b2/b1,b2/b0,r11/b11}
\end{scope}
% ---------------- Q73
\begin{scope}[name prefix=q73-]
\node[ttl] (title) at (150,1189) {Q73};
\NR{r18}{37}{1207}{18}\NR{r13a}{63}{1207}{13}\NR{r12a}{80}{1207}{12}\NR{r11}{97}{1207}{11}\NR{r10a}{114}{1207}{10}\NR{r9a}{138}{1207}{9}\NR{r7a}{168}{1207}{7}\NR{r6a}{185}{1207}{6}\NR{r5a}{249}{1207}{5}
\NB{b18}{29}{1237}{18}\NR{r17}{47}{1237}{17}\NR{r13b}{63}{1237}{13}\NR{r12b}{80}{1237}{12}\NB{b11}{97}{1237}{11}\NR{r10b}{114}{1237}{10}\NR{r9b}{138}{1237}{9}\NR{r7b}{168}{1237}{7}\NR{r6b}{185}{1237}{6}\NR{r5b}{236}{1237}{5}\NR{r4a}{262}{1237}{4}
\NB{b17}{47}{1268}{17}\NB{b13}{63}{1268}{13}\NB{b12}{80}{1268}{12}\NB{b10}{114}{1268}{10}\NB{b9}{134}{1268}{9}\NB{b8}{151}{1268}{8}\NB{b7}{168}{1268}{7}\NB{b6}{185}{1268}{6}\NB{b5}{202}{1268}{5}\NB{b3}{219}{1268}{3}\NR{r2}{236}{1268}{2}\NB{b1}{253}{1268}{1}\NB{b4}{270}{1268}{4}
\NB{b2}{236}{1298}{2}\NB{b0}{253}{1298}{0}
\EDG{r18/b18,r18/r17,r17/b17,r13a/r13b,r13b/b13,r12a/r12b,r12b/b12,r11/b11,r10a/r10b,r10b/b10,r9a/r9b,r9b/b9,r9b/b8,r7a/r7b,r7b/b7,r6a/r6b,r6b/b6,r5a/r5b,r5a/r4a,r5b/b5,r5b/b3,r5b/r2,r5b/b1,r4a/b4,r2/b2,b1/b0}
\end{scope}
% ---------------- Q74
\begin{scope}[name prefix=q74-]
\node[ttl] (title) at (440,1189) {Q74};
\NR{r20a}{430}{1207}{20}\NR{r20b}{448}{1207}{20}
\NR{r20c}{366}{1229}{20}\NR{r13a}{421}{1229}{13}\NR{r9a}{451}{1229}{9}\NR{r5a}{515}{1229}{5}
\NB{b19}{319}{1252}{19}\NB{b18}{335}{1252}{18}\NB{b17}{350}{1252}{17}\NR{r14}{365}{1252}{14}\NB{b20}{379}{1252}{20}\NR{r13b}{406}{1252}{13}\NR{r9b}{452}{1252}{9}\NR{r2}{512}{1252}{2}\NR{r5b}{534}{1252}{5}\NR{r3}{555}{1252}{3}
\NB{b14}{364}{1275}{14}\NB{b12}{379}{1275}{12}\NB{b13}{394}{1275}{13}\NB{b11}{409}{1275}{11}\NB{b10}{423}{1275}{10}\NB{b8}{438}{1275}{8}\NB{b9}{453}{1275}{9}\NB{b7}{469}{1275}{7}\NB{b6}{484}{1275}{6}\NB{b1}{499}{1275}{1}\NB{b2}{515}{1275}{2}\NB{b4}{530}{1275}{4}\NB{b5}{545}{1275}{5}\NB{b3}{560}{1275}{3}
\NB{b0}{499}{1298}{0}
\EDG{r20a/r20c,r20b/r20c,r20a/r13a,r20b/r9a,r20a/r5a,r20b/r5a,r20c/b19,r20c/b18,r20c/b17,r20c/r14,r20c/b20,r14/b14,r13a/r13b,r13a/b11,r13a/b10,r13b/b14,r13b/b12,r13b/b13,r13b/b11,r13b/b10,r9a/r9b,r9a/b8,r9a/b7,r9a/b6,r9b/b8,r9b/b9,r9b/b7,r9b/b6,r5a/r2,r5a/r5b,r5a/r3,r5a/b4,r2/b1,r2/b2,r5b/b4,r5b/b5,r3/b3,b1/b0}
\end{scope}
% ---------------- Q75
\begin{scope}[name prefix=q75-]
\node[ttl] (title) at (735,1189) {Q75};
\NR{r20a}{627}{1207}{20}\NR{r20b}{650}{1207}{20}\NB{b14}{675}{1207}{14}\NR{r13a}{699}{1207}{13}\NR{r13b}{723}{1207}{13}\NB{b13}{748}{1207}{13}\NB{b12}{772}{1207}{12}
\NR{r20c}{627}{1225}{20}\NR{r19a}{650}{1225}{19}\NR{r12}{723}{1225}{12}
\NR{r20d}{615}{1244}{20}\NR{r19b}{639}{1244}{19}\NR{r18a}{663}{1244}{18}\NR{r9}{783}{1244}{9}
\NB{b20}{615}{1262}{20}\NB{b19}{639}{1262}{19}\NR{r17}{663}{1262}{17}\NR{r18b}{687}{1262}{18}\NB{b8}{713}{1262}{8}\NR{r2}{736}{1262}{2}\NR{r7}{783}{1262}{7}\NR{r4}{832}{1262}{4}\NB{b9}{856}{1262}{9}
\NB{b17}{663}{1280}{17}\NB{b18}{687}{1280}{18}\NB{b2}{711}{1280}{2}\NB{b1}{735}{1280}{1}\NB{b5}{759}{1280}{5}\NB{b7}{783}{1280}{7}\NB{b6}{807}{1280}{6}\NR{r3}{832}{1280}{3}\NB{b4}{856}{1280}{4}
\NB{b0}{735}{1298}{0}\NB{b3}{832}{1298}{3}
\EDG{r20a/r20c,r20a/r19a,r20b/r20c,r20c/r20d,r19a/r19b,r19a/r18a,r19a/r9,r20d/b20,r19b/b19,r18a/r17,r18a/r18b,r17/b17,r18b/b18,r13b/r12,r9/b8,r9/r2,r9/r7,r9/b5,r9/b6,r9/r3,r9/r4,r9/b9,r2/b2,r2/b1,b1/b0,r7/b5,r7/b7,r7/b6,r4/r3,r4/b4,r3/b3}
\end{scope}
% ---------------- Q81
\begin{scope}[name prefix=q81-]
\node[ttl] (title) at (1027,1189) {Q81};
\NR{r19}{908}{1207}{19}\NR{r18a}{1046}{1207}{18}
\NB{b19}{908}{1230}{19}\NB{b18}{932}{1230}{18}\NR{r10}{995}{1230}{10}\NR{r7a}{1046}{1230}{7}\NR{r4a}{1073}{1230}{4}
\NB{b17}{908}{1252}{17}\NB{b16}{932}{1252}{16}\NB{b10}{958}{1252}{10}\NR{r9}{982}{1252}{9}\NR{r8}{1007}{1252}{8}\NR{r7b}{1043}{1252}{7}\NR{r4b}{1097}{1252}{4}
\NB{b6}{1023}{1275}{6}\NB{b5}{1047}{1275}{5}\NB{b4}{1073}{1275}{4}\NB{b3}{1097}{1275}{3}\NB{b2}{1122}{1275}{2}\NB{b1}{1147}{1275}{1}
\NB{b0}{1147}{1298}{0}
\EDG{r19/b19,r18a/b18,r18a/r10,r18a/r7a,r18a/r4a,b18/b17,b18/b16,r10/b10,r10/r9,r10/r8,r7a/r7b,r7a/b6,r7b/b6,r7b/b5,r4a/r4b,r4b/b4,r4b/b3,r4b/b2,r4b/b1,b1/b0}
\end{scope}
% ---------------- Q85
\begin{scope}[name prefix=q85-]
\node[ttl] (title) at (150,1320) {Q85};
\NR{r18}{30}{1338}{18}\NR{r15}{61}{1338}{15}\NR{r13}{93}{1338}{13}\NR{r10}{111}{1338}{10}\NR{r9}{132}{1338}{9}\NR{r8}{164}{1338}{8}\NR{r5}{237}{1338}{5}
\NB{b18}{30}{1384}{18}\NB{b15}{55}{1384}{15}\NB{b14}{74}{1384}{14}\NB{b13}{93}{1384}{13}\NB{b10}{111}{1384}{10}\NB{b9}{132}{1384}{9}\NB{b8}{155}{1384}{8}\NB{b7}{174}{1384}{7}\NB{b5}{194}{1384}{5}\NB{b4}{213}{1384}{4}\NB{b3}{232}{1384}{3}\NB{b2}{251}{1384}{2}\NB{b1}{271}{1384}{1}
\NB{b12}{64}{1430}{12}\NB{b11}{83}{1430}{11}\NB{b6}{174}{1430}{6}\NB{b0}{271}{1430}{0}
\EDG{r18/b18,r15/b15,r15/b14,b14/b12,b14/b11,r13/b13,r10/b10,r9/b9,r8/b8,r8/b7,b7/b6,r5/b5,r5/b4,r5/b3,r5/b2,r5/b1,b1/b0}
\end{scope}
% ---------------- Q86
\begin{scope}[name prefix=q86-]
\node[ttl] (title) at (440,1320) {Q86};
\NR{r20}{321}{1338}{20}\NR{r19}{377}{1338}{19}\NR{r2a}{565}{1338}{2}
\NB{b20}{321}{1368}{20}\NB{b19}{345}{1368}{19}\NB{b17}{367}{1368}{17}\NR{r14}{388}{1368}{14}\NR{r13}{440}{1368}{13}\NR{r2b}{565}{1368}{2}
\NB{b14}{345}{1399}{14}\NB{b13}{367}{1399}{13}\NB{b11}{389}{1399}{11}\NB{b10}{410}{1399}{10}\NB{b9}{432}{1399}{9}\NB{b8}{453}{1399}{8}\NB{b6}{475}{1399}{6}\NB{b4}{497}{1399}{4}\NB{b3}{519}{1399}{3}\NB{b1}{541}{1399}{1}\NB{b2}{565}{1399}{2}
\NB{b12}{367}{1430}{12}\NB{b5}{475}{1430}{5}\NB{b0}{541}{1430}{0}
\EDG{r20/b20,r19/b19,r19/b17,r19/r14,r19/r13,r14/b14,r14/b13,r13/b11,r13/b10,r13/b9,r13/b8,r13/b6,r13/b4,r13/b3,r13/b1,b13/b12,b6/b5,b1/b0,r2a/r2b,r2b/b2}
\end{scope}
% ---------------- Q89
\begin{scope}[name prefix=q89-]
\node[ttl] (title) at (735,1320) {Q89};
\NR{r12}{614}{1338}{12}\NR{r11}{644}{1338}{11}\NR{r10}{674}{1338}{10}\NR{r9}{705}{1338}{9}\NR{r5}{795}{1338}{5}
\NB{b12}{614}{1368}{12}\NB{b11}{644}{1368}{11}\NB{b10}{674}{1368}{10}\NB{b9}{705}{1368}{9}\NB{b5}{765}{1368}{5}\NR{r2}{795}{1368}{2}\NR{r1a}{825}{1368}{1}
\NB{b8}{705}{1399}{8}\NB{b4}{735}{1399}{4}\NB{b3}{765}{1399}{3}\NB{b2}{795}{1399}{2}\NR{r1b}{825}{1399}{1}\NB{b1}{855}{1399}{1}
\NB{b0}{855}{1430}{0}
\EDG{r12/b12,r11/b11,r10/b10,r9/b9,b9/b8,r5/b5,r5/r2,r5/r1a,b5/b4,b5/b3,r2/b2,r1a/r1b,r1a/b1,b1/b0}
\end{scope}
% ---------------- Q96
\begin{scope}[name prefix=q96-]
\node[ttl] (title) at (1027,1320) {Q96};
\NB{b12}{930}{1338}{12}\NB{b11}{979}{1338}{11}\NR{r6}{1027}{1338}{6}
\NB{b6}{907}{1384}{6}\NR{r5}{955}{1384}{5}\NR{r4}{1003}{1384}{4}\NR{r3}{1051}{1384}{3}\NR{r2}{1099}{1384}{2}\NB{b0}{1147}{1384}{0}
\NB{b5}{955}{1430}{5}\NB{b4}{1003}{1430}{4}\NB{b3}{1051}{1430}{3}\NB{b2}{1099}{1430}{2}\NB{b1}{1147}{1430}{1}
\EDG{r6/b6,r6/r5,r6/r4,r6/r3,r6/r2,r6/b0,r5/b5,r4/b4,r3/b3,r2/b2,r2/b1}
\end{scope}
% ---------------- Q99
\begin{scope}[name prefix=q99-]
\node[ttl] (title) at (150,1451) {Q99};
\NB{b18}{18}{1469}{18}\NB{b17}{56}{1469}{17}\NB{b13}{93}{1469}{13}\NR{r9}{129}{1469}{9}\NR{r8}{222}{1469}{8}
\NB{b9}{129}{1515}{9}\NB{b8}{166}{1515}{8}\NB{b3}{203}{1515}{3}\NB{b2}{240}{1515}{2}\NB{b1}{278}{1515}{1}
\NB{b0}{278}{1560}{0}
\EDG{r9/b9,r8/b8,r8/b3,r8/b2,r8/b1,b1/b0}
\end{scope}
\end{tikzpicture}
\end{document}
